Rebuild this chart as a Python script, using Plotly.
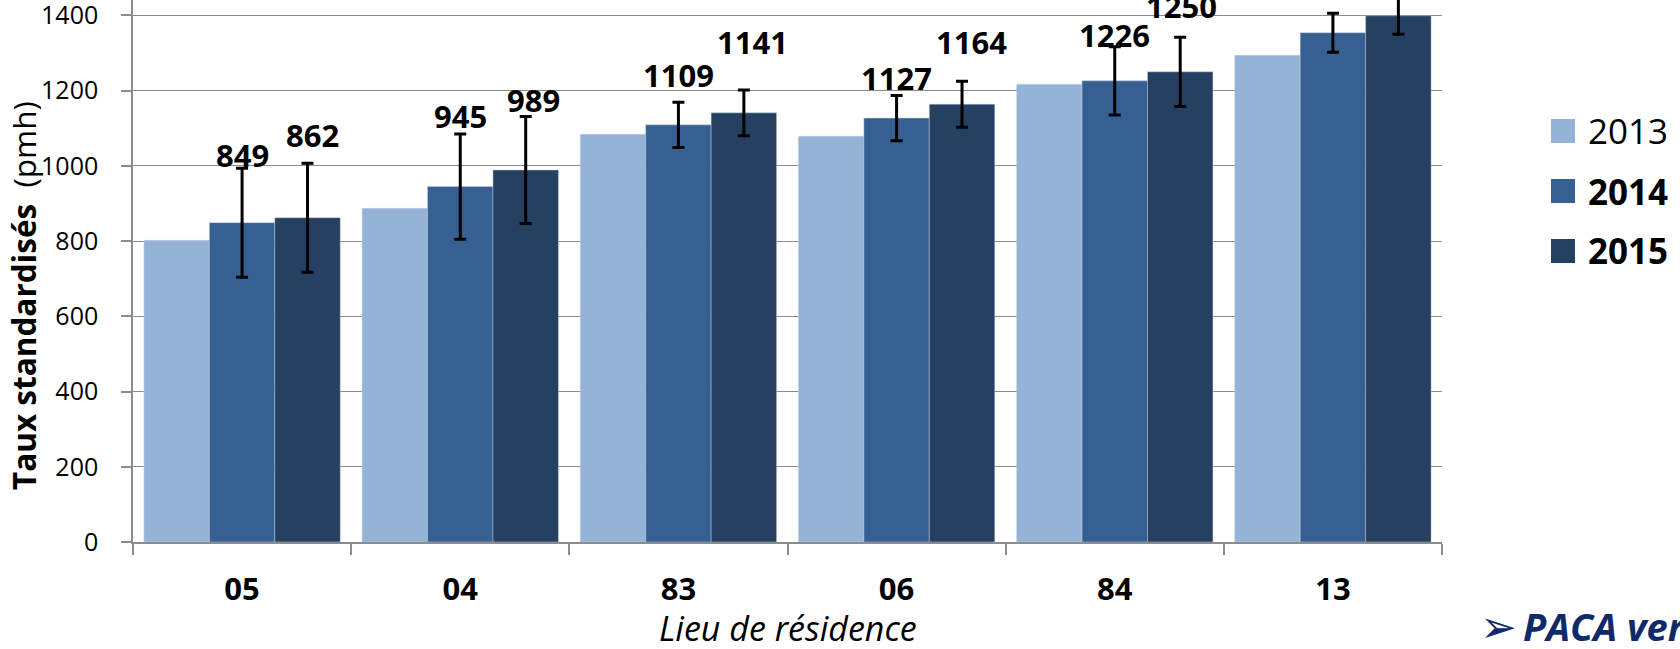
import plotly.graph_objects as go

# ---- data ----
categories = ["05", "04", "83", "06", "84", "13"]
series_names = ["2013", "2014", "2015"]
values_2013 = [802, 887, 1084, 1079, 1217, 1294]
values_2014 = [849, 945, 1109, 1127, 1226, 1354]
values_2015 = [862, 989, 1141, 1164, 1250, 1399]
err_2014 = [145, 140, 60, 60, 91, 52]
err_2015 = [145, 142, 61, 61, 92, 49]
# which bars carry a visible data label
labelled_2014 = [True, True, True, True, True, False]
labelled_2015 = [True, True, True, True, True, False]
y_ticks = [0, 200, 400, 600, 800, 1000, 1200, 1400]
x_title = "Lieu de résidence"
y_title_bold = "Taux standardisés"
y_title_rest = "(pmh)"
note_text = "PACA ver"

# ---- styling ----
colors = ["#95B3D7", "#376092", "#254061"]
FONT = "Open Sans"
W, H = 1680, 649
ML, MR, MT, MB = 133, 238, 0, 107
PW, PH = W - ML - MR, H - MT - MB
grid_col = "#8C8C8C"

def px_x(p):
    return (p - ML) / PW

def px_y(p):
    return (H - MB - p) / PH

series_vals = [values_2013, values_2014, values_2015]
series_err = [None, err_2014, err_2015]

fig = go.Figure()
for name, vals, err, col in zip(series_names, series_vals, series_err, colors):
    kw = {}
    if err is not None:
        kw["error_y"] = dict(type="data", array=err, visible=True,
                             color="black", thickness=3, width=6)
    fig.add_trace(go.Bar(
        x=categories, y=vals, name=name, marker_color=col,
        marker_line=dict(color="rgba(200,210,225,0.55)", width=0.8),
        showlegend=False, **kw))

# data labels (manual placement as in the original)
bar_w = 0.9 / 3
label_dy = {1: [68, 71, 50, 40, 46, None], 2: [83, 70, 71, 62, 66, None]}
label_dx = {1: [0, 0, 0, 0, 0, 0], 2: [5, 8, 9, 9, 1, 0]}
labelled = {1: labelled_2014, 2: labelled_2015}
for s in (1, 2):
    for i, v in enumerate(series_vals[s]):
        if not labelled[s][i]:
            continue
        fig.add_annotation(
            x=i + (s - 1) * bar_w, y=v, xref="x", yref="y",
            text=f"<b>{v}</b>", showarrow=False,
            xanchor="center", yanchor="middle",
            yshift=label_dy[s][i], xshift=label_dx[s][i],
            font=dict(family=FONT, size=31, color="black"))

# manual legend
leg_rows = [131, 191, 251]
for name, col, yc in zip(series_names, colors, leg_rows):
    fig.add_shape(type="rect", xref="paper", yref="paper",
                  x0=px_x(1551), x1=px_x(1575), y0=px_y(yc + 12), y1=px_y(yc - 12),
                  fillcolor=col, line=dict(width=0))
    txt = name if name == "2013" else f"<b>{name}</b>"
    fig.add_annotation(xref="paper", yref="paper", x=px_x(1586), y=px_y(yc),
                       text=txt, showarrow=False, xanchor="left", yanchor="middle",
                       font=dict(family=FONT, size=35, color="black"))

# axis titles
fig.add_annotation(xref="paper", yref="paper", x=0.5, y=px_y(628),
                   text=f"<i>{x_title}</i>", showarrow=False,
                   xanchor="center", yanchor="middle",
                   font=dict(family=FONT, size=34, color="black"))
fig.add_annotation(xref="paper", yref="paper", x=px_x(24), y=px_y(296),
                   text=f"<b>{y_title_bold}</b>\u00a0\u00a0{y_title_rest}",
                   textangle=-90, showarrow=False,
                   xanchor="center", yanchor="middle",
                   font=dict(family=FONT, size=31.5, color="black"))

# bottom-right note
fig.add_annotation(xref="paper", yref="paper", x=px_x(1478), y=px_y(626),
                   text="\u27a2", showarrow=False, xanchor="left", yanchor="middle",
                   font=dict(family="DejaVu Sans", size=44, color="#0F2A6B"))
fig.add_annotation(xref="paper", yref="paper", x=px_x(1521), y=px_y(626),
                   text=f"<b><i>{note_text}</i></b>", showarrow=False,
                   xanchor="left", yanchor="middle",
                   font=dict(family=FONT, size=38, color="#0F2A6B"))

fig.update_layout(
    width=W, height=H,
    margin=dict(l=ML, r=MR, t=MT, b=MB, pad=0, autoexpand=False),
    barmode="group", bargap=0.1, bargroupgap=0,
    plot_bgcolor="white", paper_bgcolor="white",
    font=dict(family=FONT, color="black"),
)
fig.update_xaxes(
    type="category", showgrid=False, showline=True, linecolor=grid_col, linewidth=1.5,
    ticks="outside", tickson="boundaries", ticklen=11, tickcolor=grid_col, tickwidth=1.5,
    tickfont=dict(family=FONT, size=31, color="black"),
    ticktext=[f"<b>{c}</b>" for c in categories], tickvals=categories,
    ticklabelstandoff=19, automargin=False,
)
fig.update_yaxes(
    range=[0, 1441], tickvals=y_ticks, showgrid=True, gridcolor=grid_col, gridwidth=1,
    showline=True, linecolor=grid_col, linewidth=1.5, zeroline=False,
    ticks="outside", ticklen=10, tickcolor=grid_col, tickwidth=1.5,
    tickfont=dict(family=FONT, size=25, color="black"),
    ticklabelstandoff=18, automargin=False, ticklabeloverflow="allow",
)

fig.write_html("out.html",
               config={"displayModeBar": False},
               post_script="document.body.style.margin='0px';"
                           "document.body.style.overflow='hidden';")
